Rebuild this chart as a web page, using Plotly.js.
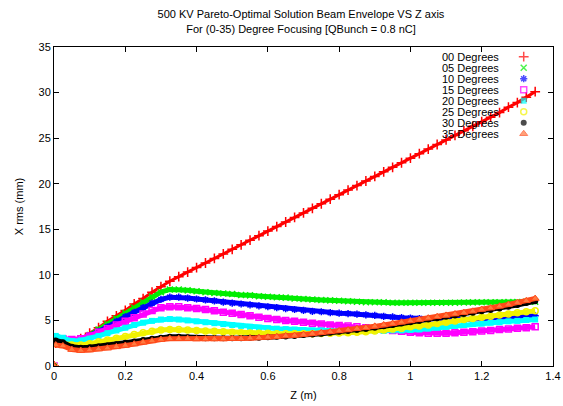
<!DOCTYPE html>
<html>
<head>
<meta charset="utf-8">
<script src="https://cdn.plot.ly/plotly-3.0.1.min.js"></script>
<style>
  html, body { margin: 0; padding: 0; background: #fff; }
  #chart { width: 563px; height: 406px; }
</style>
</head>
<body>
<div id="chart"></div>
<script>
// Beam envelope (X rms) along the beamline for each focusing angle
const zPos = [0, 0.005, 0.025, 0.05, 0.075, 0.1, 0.125, 0.15, 0.175, 0.2, 0.225, 0.25, 0.275, 0.3, 0.325,
  0.35, 0.375, 0.4, 0.425, 0.45, 0.475, 0.5, 0.525, 0.55, 0.575, 0.6, 0.625, 0.65, 0.675, 0.7,
  0.725, 0.75, 0.775, 0.8, 0.825, 0.85, 0.875, 0.9, 0.925, 0.95, 0.975, 1.0, 1.025, 1.05, 1.075, 1.1,
  1.125, 1.15, 1.175, 1.2, 1.225, 1.25, 1.275, 1.3, 1.325, 1.35];

const deg00 = [0, 2.5, 2.5, 2.6, 3.0, 3.6, 4.2, 4.9, 5.5, 6.1, 6.8, 7.4, 8.1, 8.7, 9.3,
  9.8, 10.3, 10.8, 11.3, 11.8, 12.3, 12.8, 13.3, 13.8, 14.3, 14.8, 15.3, 15.8, 16.3, 16.8,
  17.3, 17.8, 18.3, 18.8, 19.3, 19.8, 20.3, 20.8, 21.3, 21.8, 22.3, 22.8, 23.3, 23.8, 24.3, 24.8,
  25.3, 25.8, 26.3, 26.8, 27.3, 27.8, 28.4, 28.9, 29.5, 30.1];
const deg05 = [0, 2.6, 2.5, 2.55, 2.9, 3.4, 4.0, 4.6, 5.2, 5.8, 6.4, 7.0, 7.6, 8.1, 8.4,
  8.4, 8.3, 8.2, 8.1, 8.0, 7.95, 7.9, 7.8, 7.75, 7.65, 7.6, 7.55, 7.5, 7.4, 7.35,
  7.3, 7.25, 7.2, 7.15, 7.1, 7.05, 7.0, 7.0, 6.98, 6.95, 6.95, 6.95, 6.95, 6.95, 6.95, 6.95,
  6.95, 6.97, 6.98, 7.0, 7.0, 7.0, 7.02, 7.03, 7.05, 7.05];
const deg10 = [0, 2.7, 2.6, 2.6, 2.9, 3.3, 3.8, 4.3, 4.9, 5.4, 5.9, 6.4, 6.9, 7.3, 7.55,
  7.55, 7.45, 7.35, 7.25, 7.15, 7.0, 6.9, 6.8, 6.7, 6.6, 6.5, 6.4, 6.3, 6.2, 6.1,
  6.0, 5.95, 5.85, 5.8, 5.75, 5.7, 5.62, 5.55, 5.45, 5.38, 5.3, 5.25, 5.2, 5.15, 5.15, 5.1,
  5.1, 5.1, 5.15, 5.2, 5.25, 5.3, 5.35, 5.4, 5.45, 5.5];
const deg15 = [0, 3.1, 3.0, 2.9, 3.0, 3.3, 3.7, 4.1, 4.5, 4.9, 5.3, 5.7, 6.1, 6.4, 6.5,
  6.5, 6.4, 6.3, 6.2, 6.05, 5.9, 5.8, 5.65, 5.5, 5.35, 5.2, 5.1, 5.0, 4.9, 4.8,
  4.7, 4.6, 4.5, 4.45, 4.4, 4.3, 4.2, 4.1, 4.0, 3.9, 3.8, 3.7, 3.65, 3.6, 3.6, 3.6,
  3.65, 3.7, 3.75, 3.85, 3.9, 4.0, 4.05, 4.15, 4.2, 4.3];
const deg20 = [0, 3.3, 3.1, 2.75, 2.8, 3.0, 3.3, 3.6, 3.9, 4.2, 4.5, 4.75, 4.95, 5.1, 5.15,
  5.1, 5.0, 4.9, 4.8, 4.7, 4.6, 4.5, 4.4, 4.3, 4.2, 4.15, 4.1, 4.05, 4.0, 3.95,
  3.9, 3.9, 3.85, 3.85, 3.85, 3.85, 3.85, 3.85, 3.85, 3.9, 3.9, 3.95, 4.0, 4.1, 4.2, 4.3,
  4.4, 4.5, 4.6, 4.65, 4.75, 4.8, 4.9, 4.95, 5.05, 5.1];
const deg25 = [0, 2.5, 2.45, 2.3, 2.3, 2.45, 2.65, 2.85, 3.05, 3.25, 3.45, 3.65, 3.8, 3.95, 4.0,
  4.0, 3.95, 3.9, 3.85, 3.8, 3.75, 3.7, 3.65, 3.62, 3.6, 3.58, 3.55, 3.55, 3.55, 3.55,
  3.55, 3.57, 3.6, 3.62, 3.65, 3.7, 3.75, 3.85, 3.95, 4.05, 4.15, 4.3, 4.4, 4.5, 4.65, 4.8,
  4.95, 5.1, 5.2, 5.35, 5.45, 5.6, 5.7, 5.85, 5.95, 6.05];
const deg30 = [0, 2.8, 2.6, 2.1, 2.0, 2.05, 2.15, 2.25, 2.4, 2.55, 2.7, 2.85, 3.0, 3.1, 3.2,
  3.2, 3.15, 3.1, 3.05, 3.05, 3.05, 3.05, 3.05, 3.1, 3.1, 3.15, 3.2, 3.25, 3.3, 3.4,
  3.45, 3.55, 3.65, 3.75, 3.85, 3.95, 4.05, 4.2, 4.35, 4.5, 4.65, 4.8, 4.95, 5.1, 5.25, 5.4,
  5.55, 5.7, 5.85, 6.0, 6.15, 6.3, 6.5, 6.7, 6.9, 7.1];
const deg35 = [0, 2.3, 2.2, 1.8, 1.7, 1.75, 1.85, 1.95, 2.1, 2.25, 2.4, 2.6, 2.75, 2.9, 3.0,
  3.0, 3.0, 2.95, 2.95, 2.95, 2.95, 3.0, 3.0, 3.05, 3.1, 3.15, 3.2, 3.3, 3.35, 3.45,
  3.55, 3.65, 3.75, 3.85, 3.95, 4.1, 4.2, 4.35, 4.5, 4.65, 4.8, 4.95, 5.1, 5.25, 5.4, 5.55,
  5.7, 5.85, 6.0, 6.2, 6.35, 6.55, 6.75, 6.95, 7.15, 7.4];

const seriesNames = ['00 Degrees', '05 Degrees', '10 Degrees', '15 Degrees',
  '20 Degrees', '25 Degrees', '30 Degrees', '35 Degrees'];
const seriesValues = [deg00, deg05, deg10, deg15, deg20, deg25, deg30, deg35];

const xTicks = [0, 0.2, 0.4, 0.6, 0.8, 1, 1.2, 1.4];
const xTickText = ['0', '0.2', '0.4', '0.6', '0.8', '1', '1.2', '1.4'];
const yTicks = [0, 5, 10, 15, 20, 25, 30, 35];

// point styles, one per focusing angle
const styles = [
  { color: '#ff0000', symbol: 'cross-thin', size: 7, lw: 1.5, fill: '#ff0000', band: 3 },
  { color: '#00ee00', symbol: 'x-thin', size: 6, lw: 1.5, fill: '#00ee00', band: 5 },
  { color: '#0000ff', symbol: 'asterisk', size: 6, lw: 1.5, fill: '#0000ff', band: 5 },
  { color: '#ff00ff', symbol: 'square-open', size: 6, lw: 1.5, fill: '#ff00ff', band: 5 },
  { color: '#00ffff', symbol: 'square', size: 6, lw: 0, fill: '#00ffff', band: 5 },
  { color: '#f2f200', symbol: 'circle-open', size: 6, lw: 1.5, fill: '#f2f200', band: 5 },
  { color: '#000000', symbol: 'circle', size: 6, lw: 0, fill: '#000000', band: 5 },
  { color: '#ff4a1a', symbol: 'triangle-up', size: 7, lw: 1, fill: '#ff7a40', band: 5 }
];

const font = 'Liberation Sans, Arial, Helvetica, sans-serif';
const traces = [];
seriesValues.forEach((vals, i) => {
  const st = styles[i];
  // dense band joining the samples (skipping the origin sample)
  traces.push({
    x: zPos.slice(1), y: vals.slice(1), type: 'scatter', mode: 'lines',
    line: { color: st.color, width: st.band }, showlegend: false, hoverinfo: 'skip'
  });
  traces.push({
    x: zPos, y: vals, type: 'scatter', mode: 'markers', name: seriesNames[i],
    marker: { symbol: st.symbol, size: st.size, color: st.fill,
      line: { color: st.color, width: st.lw } },
    showlegend: false
  });
});

// key: label text on the left, point sample on the right
const keyX = 0.9413, keyTextX = 0.8958, keyTop = 0.9696, keyStep = 0.0345;
traces.push({
  x: seriesNames.map(() => keyX),
  y: seriesNames.map((_, i) => keyTop - i * keyStep),
  xaxis: 'x2', yaxis: 'y2', type: 'scatter', mode: 'markers', showlegend: false,
  hoverinfo: 'skip',
  marker: {
    symbol: styles.map(s => s.symbol), size: styles.map(s => s.size),
    color: styles.map(s => s.fill),
    line: { color: styles.map(s => s.color), width: styles.map(s => s.lw) }
  }
});
const annotations = seriesNames.map((n, i) => ({
  text: n, xref: 'paper', yref: 'paper', x: keyTextX, y: keyTop - i * keyStep,
  xanchor: 'right', yanchor: 'middle', showarrow: false,
  font: { family: font, size: 11, color: '#000' }
}));

const axisCommon = {
  showgrid: false, zeroline: false, showline: true, linecolor: '#000', linewidth: 1,
  ticks: 'inside', ticklen: 5, tickcolor: '#000', mirror: 'ticks',
  tickfont: { family: font, size: 11, color: '#000' }
};

const layout = {
  width: 563, height: 406,
  margin: { l: 54, r: 10, t: 47, b: 40, pad: 0 },
  paper_bgcolor: '#fff', plot_bgcolor: '#fff',
  showlegend: false,
  title: {
    text: '500 KV Pareto-Optimal Solution Beam Envelope VS Z axis<br>For (0-35) Degree Focusing [QBunch = 0.8 nC]',
    font: { family: font, size: 11, color: '#000' },
    xref: 'paper', x: 0.495, xanchor: 'center',
    yref: 'container', y: 0.955, yanchor: 'top'
  },
  xaxis: Object.assign({}, axisCommon, {
    range: [0, 1.4], tickvals: xTicks, ticktext: xTickText,
    title: { text: 'Z (m)', font: { family: font, size: 11, color: '#000' }, standoff: 10 }
  }),
  yaxis: Object.assign({}, axisCommon, {
    range: [0, 35], tickvals: yTicks,
    title: { text: 'X rms (mm)', font: { family: font, size: 11, color: '#000' }, standoff: 12 }
  }),
  xaxis2: { overlaying: 'x', range: [0, 1], visible: false, fixedrange: true },
  yaxis2: { overlaying: 'y', range: [0, 1], visible: false, fixedrange: true },
  annotations: annotations
};

Plotly.newPlot('chart', traces, layout, { staticPlot: true, displayModeBar: false });
</script>
</body>
</html>
